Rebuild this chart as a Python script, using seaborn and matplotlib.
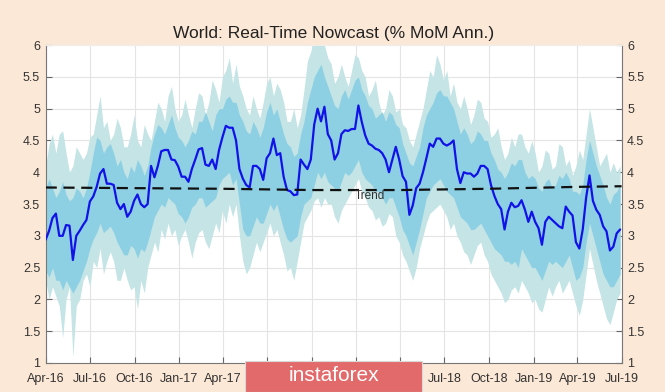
import numpy as np
import pandas as pd
import matplotlib
matplotlib.use("Agg")
import matplotlib.pyplot as plt
import matplotlib.dates as mdates
from matplotlib.patches import Rectangle
from matplotlib.ticker import FuncFormatter
import seaborn as sns

# weekly nowcast, starting 1 Apr 2016
nowcast = [
    2.94, 3.08, 3.28, 3.35, 3.0, 3.0, 3.17, 3.16, 2.62, 3.0, 3.08, 3.17, 3.25, 3.54,
    3.62, 3.77, 3.98, 4.05, 3.82, 3.82, 3.8, 3.52, 3.42, 3.5, 3.3, 3.38, 3.55, 3.65,
    3.5, 3.45, 3.5, 4.1, 3.92, 4.1, 4.33, 4.35, 4.35, 4.2, 4.19, 4.09, 3.93, 3.93,
    3.85, 4.05, 4.2, 4.36, 4.38, 4.12, 4.1, 4.2, 4.05, 4.35, 4.55, 4.73, 4.7, 4.7,
    4.5, 4.05, 3.9, 3.8, 3.76, 4.1, 4.1, 4.05, 3.88, 4.22, 4.3, 4.53, 4.27, 4.3,
    3.93, 3.72, 3.7, 3.64, 3.65, 4.2, 4.12, 4.05, 4.2, 4.75, 5.0, 4.8, 5.03, 4.6,
    4.5, 4.2, 4.3, 4.6, 4.66, 4.65, 4.68, 4.68, 5.05, 4.79, 4.58, 4.45, 4.42, 4.37,
    4.35, 4.3, 4.2, 4.0, 4.2, 4.4, 4.2, 3.94, 3.85, 3.33, 3.48, 3.75, 3.82, 4.0,
    4.22, 4.45, 4.4, 4.53, 4.53, 4.45, 4.42, 4.45, 4.5, 4.05, 3.83, 4.0, 3.98, 3.98,
    3.93, 3.98, 4.1, 4.1, 4.05, 3.8, 3.63, 3.5, 3.42, 3.1, 3.38, 3.52, 3.45, 3.47,
    3.56, 3.41, 3.22, 3.38, 3.22, 3.12, 2.86, 3.22, 3.3, 3.25, 3.2, 3.15, 3.12, 3.46,
    3.38, 3.32, 2.9, 2.8, 3.1, 3.6, 3.95, 3.55, 3.41, 3.33, 3.15, 3.07, 2.77, 2.83,
    3.04, 3.1,
]

# weekly uncertainty bands (inner = darker, outer = lighter)
inner_hi = [
    3.75, 3.9, 3.75, 3.6, 3.7, 3.85, 3.65, 3.55, 3.6, 3.75, 3.7, 3.6, 3.75, 4.0,
    4.3, 4.55, 4.5, 4.3, 4.4, 4.45, 4.3, 4.1, 4.2, 4.0, 3.9, 4.1, 4.0, 4.2,
    4.1, 3.95, 4.1, 4.4, 4.6, 4.75, 4.7, 4.6, 4.75, 4.9, 4.7, 4.55, 4.5, 4.4,
    4.5, 4.65, 4.6, 4.8, 4.8, 4.95, 4.8, 4.65, 4.9, 5.0, 5.0, 5.15, 5.2, 5.1,
    5.1, 4.9, 4.8, 4.65, 4.6, 4.8, 4.7, 4.55, 4.7, 4.95, 5.1, 4.9, 5.0, 4.8,
    4.6, 4.45, 4.4, 4.25, 4.3, 4.6, 4.8, 5.1, 5.3, 5.5, 5.6, 5.7, 5.5, 5.35,
    5.2, 5.05, 5.0, 5.2, 5.3, 5.15, 5.3, 5.45, 5.5, 5.3, 5.2, 5.05, 5.0, 4.85,
    4.9, 4.95, 4.8, 4.95, 4.9, 4.75, 4.7, 4.45, 4.3, 4.15, 4.1, 4.25, 4.4, 4.7,
    4.9, 5.0, 5.1, 5.25, 5.3, 5.2, 5.2, 5.1, 5.0, 4.8, 4.6, 4.7, 4.6, 4.45,
    4.5, 4.65, 4.6, 4.5, 4.5, 4.3, 4.2, 4.05, 4.0, 3.9, 4.0, 4.15, 4.1, 4.2,
    4.2, 4.0, 3.9, 3.95, 3.9, 3.75, 3.7, 3.85, 3.9, 3.75, 3.8, 3.95, 3.9, 4.0,
    3.9, 3.7, 3.7, 3.65, 3.8, 4.2, 4.5, 4.3, 4.1, 3.95, 3.8, 3.6, 3.5, 3.65,
    3.7, 3.8,
]
inner_lo = [
    2.45, 2.35, 2.5, 2.3, 2.3, 2.15, 2.3, 2.2, 2.1, 2.2, 2.3, 2.45, 2.6, 2.8,
    2.95, 3.05, 3.2, 3.05, 3.1, 3.15, 3.05, 2.9, 2.8, 2.7, 2.7, 2.85, 2.8, 2.65,
    2.8, 2.75, 2.9, 3.1, 3.3, 3.4, 3.5, 3.45, 3.6, 3.55, 3.5, 3.35, 3.3, 3.2,
    3.3, 3.45, 3.5, 3.6, 3.6, 3.45, 3.5, 3.55, 3.6, 3.8, 3.9, 3.95, 4.0, 3.8,
    3.9, 3.5, 3.1, 3.0, 3.0, 3.15, 3.3, 3.2, 3.2, 3.35, 3.5, 3.4, 3.5, 3.3,
    3.1, 2.95, 2.9, 2.95, 3.0, 3.3, 3.5, 3.55, 3.6, 3.8, 4.0, 3.9, 4.0, 3.85,
    3.8, 3.75, 3.7, 3.85, 4.0, 3.95, 4.0, 4.1, 4.2, 4.0, 3.9, 3.85, 3.8, 3.7,
    3.7, 3.6, 3.5, 3.6, 3.6, 3.45, 3.3, 3.1, 3.0, 2.85, 2.7, 2.9, 3.1, 3.35,
    3.6, 3.7, 3.8, 3.85, 3.9, 3.8, 3.7, 3.65, 3.6, 3.45, 3.3, 3.25, 3.2, 3.1,
    3.1, 3.15, 3.2, 3.1, 3.0, 2.9, 2.8, 2.75, 2.7, 2.6, 2.6, 2.55, 2.6, 2.5,
    2.8, 2.7, 2.6, 2.5, 2.5, 2.4, 2.3, 2.45, 2.6, 2.55, 2.6, 2.55, 2.5, 2.6,
    2.7, 2.5, 2.3, 2.35, 2.5, 2.9, 3.2, 3.0, 2.8, 2.6, 2.4, 2.3, 2.2, 2.2,
    2.3, 2.4,
]
outer_hi = [
    4.1, 4.45, 4.6, 4.3, 4.6, 4.65, 4.3, 4.0, 4.1, 4.4, 4.3, 4.2, 4.3, 4.55,
    4.6, 4.9, 5.2, 4.7, 4.8, 4.5, 4.6, 4.85, 4.7, 4.4, 4.4, 4.6, 4.9, 4.5,
    4.4, 4.75, 4.6, 4.5, 4.8, 5.1, 5.0, 4.8, 5.2, 5.35, 5.0, 4.8, 4.9, 5.15,
    4.9, 4.7, 5.0, 5.25, 5.2, 4.9, 5.1, 5.45, 5.3, 5.1, 5.5, 5.6, 5.8, 5.4,
    5.7, 5.35, 5.2, 5.0, 4.9, 5.2, 5.0, 4.85, 5.1, 5.4, 5.5, 5.2, 5.4, 5.3,
    5.1, 4.8, 4.8, 5.0, 4.7, 4.9, 5.3, 5.75, 5.9, 6.1, 6.0, 6.2, 6.0, 5.8,
    5.7, 5.4, 5.5, 5.7, 5.5, 5.35, 5.6, 5.85, 5.8, 5.6, 5.5, 5.2, 5.3, 5.45,
    5.1, 4.9, 5.0, 5.3, 5.2, 4.95, 5.0, 4.75, 4.7, 4.5, 4.4, 4.6, 4.8, 5.0,
    5.3, 5.6, 5.5, 5.85, 5.7, 5.45, 5.6, 5.2, 5.4, 5.1, 5.0, 5.2, 5.0, 4.75,
    4.9, 5.15, 5.1, 4.85, 4.8, 4.55, 4.6, 4.7, 4.4, 4.2, 4.3, 4.55, 4.4, 4.6,
    4.6, 4.4, 4.3, 4.5, 4.3, 4.0, 4.1, 4.35, 4.3, 4.05, 4.1, 4.45, 4.4, 4.1,
    4.2, 3.95, 4.1, 4.35, 4.2, 4.6, 5.0, 4.7, 4.4, 4.1, 4.2, 4.3, 4.0, 4.15,
    4.0, 4.1,
]
outer_lo = [
    2.3, 2.0, 2.2, 2.05, 1.9, 1.4, 2.0, 2.2, 1.1, 1.9, 2.0, 2.3, 2.4, 2.2,
    2.6, 2.5, 2.8, 2.4, 2.6, 2.75, 2.6, 2.3, 2.3, 2.5, 2.3, 2.15, 2.2, 1.85,
    2.3, 2.1, 2.5, 2.7, 2.9, 2.75, 3.1, 2.95, 3.2, 3.0, 3.1, 2.85, 3.0, 3.1,
    2.9, 2.65, 2.9, 3.05, 3.1, 2.9, 2.8, 3.0, 3.2, 3.05, 3.4, 3.2, 3.5, 3.3,
    3.5, 3.0, 2.6, 2.4, 2.5, 2.7, 2.9, 2.75, 2.9, 3.05, 3.2, 3.0, 3.1, 2.9,
    2.7, 2.45, 2.5, 2.3, 2.6, 2.9, 3.2, 3.3, 3.4, 3.55, 3.6, 3.45, 3.6, 3.5,
    3.5, 3.3, 3.2, 3.4, 3.5, 3.6, 3.7, 3.8, 3.9, 3.7, 3.6, 3.45, 3.4, 3.25,
    3.3, 3.15, 3.2, 3.35, 3.3, 3.0, 2.9, 2.7, 2.6, 2.45, 2.3, 2.5, 2.8, 3.0,
    3.2, 3.35, 3.4, 3.45, 3.5, 3.4, 3.3, 3.1, 3.2, 3.0, 2.9, 2.75, 2.7, 2.55,
    2.7, 2.85, 2.9, 2.7, 2.6, 2.4, 2.3, 2.2, 2.1, 1.95, 2.0, 2.15, 2.2, 2.1,
    2.3, 2.2, 2.1, 1.95, 2.0, 1.85, 1.8, 2.0, 2.2, 2.05, 2.2, 2.3, 2.1, 2.2,
    2.3, 2.1, 1.9, 1.75, 2.0, 2.4, 2.8, 2.55, 2.3, 2.1, 1.9, 1.7, 1.6, 1.8,
    2.0, 2.1,
]

trend_dates = ["2016-04-01", "2016-10-01", "2017-04-01", "2017-10-01",
               "2018-04-01", "2018-10-01", "2019-04-01", "2019-07-01"]
trend_vals = [3.76, 3.75, 3.74, 3.72, 3.72, 3.74, 3.77, 3.78]

y_ticks = [1, 1.5, 2, 2.5, 3, 3.5, 4, 4.5, 5, 5.5, 6]

BG = "#fce8d6"

df = pd.DataFrame({
    "date": pd.date_range("2016-04-01", periods=len(nowcast), freq="7D"),
    "value": nowcast,
    "inner_hi": inner_hi,
    "inner_lo": inner_lo,
    "outer_hi": outer_hi,
    "outer_lo": outer_lo,
})
trend_df = pd.DataFrame({"date": pd.to_datetime(trend_dates), "value": trend_vals})

sns.set_style("white")
plt.rcParams["font.family"] = ["Liberation Sans", "DejaVu Sans"]

fig = plt.figure(figsize=(6.65, 3.92), dpi=100, facecolor=BG)
ax = fig.add_axes([0.0687, 0.074, 0.866, 0.811])
ax.set_facecolor("white")

ax.fill_between(df["date"], df["outer_lo"], df["outer_hi"], color="#c4e4e5",
                lw=0, zorder=1)
ax.fill_between(df["date"], df["inner_lo"], df["inner_hi"], color="#8dd0e4",
                lw=0, zorder=2)

sns.lineplot(data=df, x="date", y="value", ax=ax, color="#1212e8",
             lw=1.6, zorder=3)
sns.lineplot(data=trend_df, x="date", y="value", ax=ax, color="#111111",
             lw=1.6, zorder=4)
ax.lines[-1].set_dashes([5, 3])

ax.text(pd.Timestamp("2018-01-28"), 3.62, "Trend", fontsize=8.5,
        color="#333333", ha="center", va="center", zorder=5)

ax.set_xlim(pd.Timestamp("2016-04-01"), pd.Timestamp("2019-07-01"))
ax.set_ylim(1, 6)
ax.set_yticks(y_ticks)
ax.yaxis.set_major_formatter(FuncFormatter(lambda v, p: f"{v:g}"))
ax.xaxis.set_major_locator(mdates.MonthLocator(bymonth=[1, 4, 7, 10]))
ax.xaxis.set_major_formatter(mdates.DateFormatter("%b-%y"))

ax.grid(True, color="#e4e4e4", lw=0.8, zorder=0)
ax.set_axisbelow(True)
ax.tick_params(direction="in", length=4, color="#666666", labelsize=9,
               labelcolor="#333333", right=True, labelright=True,
               left=True, bottom=True, pad=4)
ax.tick_params(axis="x", pad=7)
for side in ["left", "right", "bottom"]:
    ax.spines[side].set_color("#777777")
    ax.spines[side].set_linewidth(0.8)
ax.spines["top"].set_color("#eeeeee")
ax.set_xlabel("")
ax.set_ylabel("")
ax.set_title("World: Real-Time Nowcast (% MoM Ann.)", fontsize=12.5,
             color="#222222", pad=5)

# watermark box at the bottom, lying over the middle date labels
fig.patches.append(Rectangle((0.368, 0.0), 0.266, 0.079, transform=fig.transFigure,
                             facecolor="#e36a6a", edgecolor="#d9d9d9", lw=0.8,
                             zorder=10))
fig.text(0.502, 0.042, "instaforex", color="white", fontsize=15,
         ha="center", va="center", zorder=11)

fig.savefig("out.png", dpi=100, facecolor=BG)
